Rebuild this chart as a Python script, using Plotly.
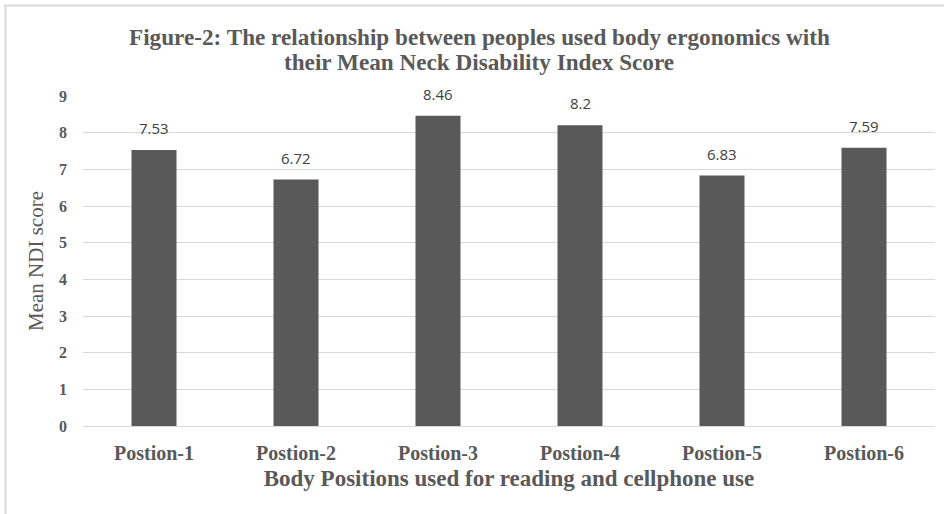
import plotly.graph_objects as go

categories = ["Postion-1", "Postion-2", "Postion-3", "Postion-4", "Postion-5", "Postion-6"]
mean_ndi = [7.53, 6.72, 8.46, 8.2, 6.83, 7.59]
value_labels = ["7.53", "6.72", "8.46", "8.2", "6.83", "7.59"]
y_ticks = [0, 1, 2, 3, 4, 5, 6, 7, 8, 9]
title_lines = ["Figure-2: The relationship between peoples used body ergonomics with",
               "their Mean Neck Disability Index Score"]

serif = "Liberation Serif, Times New Roman, serif"
grey = "#595959"

fig = go.Figure()
fig.add_trace(go.Bar(
    x=categories, y=mean_ndi,
    marker=dict(color=grey, line=dict(width=0)),
    hoverinfo="skip",
))

for c, v, t in zip(categories, mean_ndi, value_labels):
    fig.add_annotation(x=c, y=v, text=t, showarrow=False, yanchor="bottom",
                       yshift=10, font=dict(family="Open Sans, Liberation Sans, sans-serif", size=15, color="#404040"))

# title, two lines
for line, py in zip(title_lines, [(426 - 37) / 330, (426 - 62) / 330]):
    fig.add_annotation(xref="paper", yref="paper", x=(479 - 83) / 852, y=py,
                       xanchor="center", yanchor="middle", showarrow=False,
                       text="<b>" + line + "</b>",
                       font=dict(family=serif, size=23.2, color=grey))

fig.update_layout(
    width=944, height=514,
    margin=dict(l=83, r=9, t=96, b=88),
    paper_bgcolor="white", plot_bgcolor="white",
    bargap=0.683,
    showlegend=False,
    xaxis=dict(
        tickfont=dict(family=serif, size=20, color=grey, weight="bold"),
        showgrid=False, showline=True, linecolor="#d9d9d9", linewidth=1,
        ticklabelstandoff=9,
        title=dict(text="<b>Body Positions used for reading and cellphone use</b>",
                   font=dict(family=serif, size=23, color=grey), standoff=6),
    ),
    yaxis=dict(
        range=[0, 9], tickvals=y_ticks,
        tickfont=dict(family=serif, size=16, color=grey, weight="bold"),
        showgrid=True, gridcolor="#d9d9d9", gridwidth=1, zeroline=False,
        ticklabelstandoff=15,
        title=dict(text="Mean NDI score", font=dict(family=serif, size=21, color=grey), standoff=9),
    ),
)

# outer chart border (top and left edges)
fig.add_shape(type="line", xref="paper", yref="paper",
              x0=(4 - 83) / 852, x1=(944 - 83) / 852, y0=(426 - 5.5) / 330, y1=(426 - 5.5) / 330,
              line=dict(color="#d9d9d9", width=2))
fig.add_shape(type="line", xref="paper", yref="paper",
              x0=(5.5 - 83) / 852, x1=(5.5 - 83) / 852, y0=(426 - 5) / 330, y1=(426 - 514) / 330,
              line=dict(color="#d9d9d9", width=2))

fig.write_html("out.html")
